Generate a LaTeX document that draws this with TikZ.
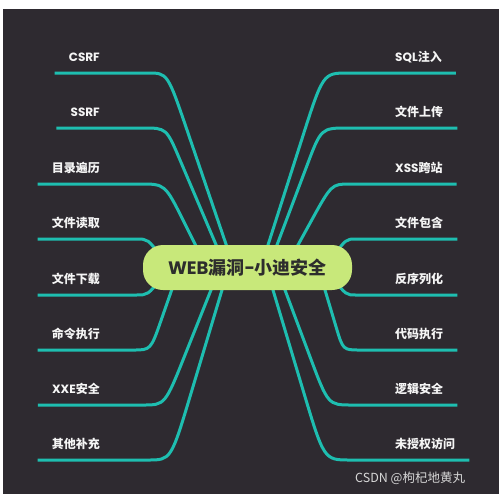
\documentclass[tikz,border=0pt]{standalone}
\usepackage{fontspec}
\newfontfamily\cjk{Noto Sans CJK SC}
\newfontfamily\mylatf{Poppins}
\newcommand\mylat[1]{{\mylatf #1}}
\definecolor{bgdark}{RGB}{46,42,48}
\definecolor{teal1}{RGB}{30,190,176}
\definecolor{rootgreen}{RGB}{200,232,122}
\definecolor{roottext}{RGB}{45,45,45}
\definecolor{labeltext}{RGB}{245,245,245}
\definecolor{wmark}{RGB}{215,215,215}
\pgfdeclarelayer{bg}
\pgfsetlayers{bg,main}
\begin{document}
\begin{tikzpicture}[x=1pt,y=-1pt,
  conn/.style={draw=teal1,line width=3pt,line join=round},
  leaf/.style={text=labeltext,font=\cjk\bfseries\fontsize{12}{14}\selectfont,
    inner xsep=14pt,inner ysep=9.4pt,text height=9pt,text depth=2pt},
  lleaf/.style={leaf,anchor=south east},
  rleaf/.style={leaf,anchor=south west},
  rootbox/.style={fill=rootgreen,rounded corners=20pt,minimum width=209pt,
    minimum height=45pt,inner sep=0pt,text=roottext,
    font=\cjk\bfseries\fontsize{18}{20}\selectfont}]
\useasboundingbox (0,0) rectangle (500,496);
% nodes
\node[rootbox] (root) at (247.5,267.5) {\mylat{WEB}漏洞\mylat{-}小迪安全};
\node[lleaf] (csrf) at (114,73) {\mylat{CSRF}};
\node[lleaf] (ssrf) at (114,128) {\mylat{SSRF}};
\node[lleaf] (mulu) at (114,184) {目录遍历};
\node[lleaf] (duqu) at (114,239) {文件读取};
\node[lleaf] (xiazai) at (114,295) {文件下载};
\node[lleaf] (mingling) at (114,350) {命令执行};
\node[lleaf] (xxe) at (114,405) {\mylat{XXE}安全};
\node[lleaf] (qita) at (114,460) {其他补充};
\node[rleaf] (sql) at (381,73) {\mylat{SQL}注入};
\node[rleaf] (shangchuan) at (381,128) {文件上传};
\node[rleaf] (xss) at (381,184) {\mylat{XSS}跨站};
\node[rleaf] (baohan) at (381,239) {文件包含};
\node[rleaf] (fanxu) at (381,295) {反序列化};
\node[rleaf] (daima) at (381,350) {代码执行};
\node[rleaf] (luoji) at (381,405) {逻辑安全};
\node[rleaf] (weishou) at (381,460) {未授权访问};
\node[anchor=west,inner sep=0pt,text=wmark,font=\cjk\fontsize{12.5}{14}\selectfont] (wm) at (355,478) {CSDN @枸杞地黄丸};
\begin{pgfonlayer}{bg}
\fill[white] (0,0) rectangle (500,496);
\fill[bgdark] (3,9) rectangle (499,494);
% left
\draw[conn] ([shift={(-17.1,-10.5)}]root.center) -- (187,130) .. controls (167.5,73) .. (148,73) -- (csrf.south west);
\draw[conn] ([shift={(-26.25,-10.5)}]root.center) -- (180,160) .. controls (166.4,128) .. (143,128) -- (ssrf.south west);
\draw[conn] ([shift={(-47,-12.5)}]root.center) -- (183.5,221) .. controls (165,184) .. (140,184) -- (mulu.south west);
\draw[conn] ([shift={(-85.5,-9.5)}]root.center) .. controls (148,239) .. (136,239) -- (duqu.south west);
\draw[conn] ([shift={(-85.5,9.5)}]root.center) .. controls (148,295) .. (136,295) -- (xiazai.south west);
\draw[conn] ([shift={(-72,11.5)}]root.center) -- (161.2,320) .. controls (150.7,350) .. (133,350) -- (mingling.south west);
\draw[conn] ([shift={(-32.5,12.5)}]root.center) -- (185,355) .. controls (165,405) .. (143,405) -- (xxe.south west);
\draw[conn] ([shift={(-22.5,12.5)}]root.center) -- (191.1,393) .. controls (171,460) .. (148,460) -- (qita.south west);
% right
\draw[conn] ([shift={(17.3,-12.5)}]root.center) -- (301.6,140) .. controls (323,73) .. (348,73) -- (sql.south east);
\draw[conn] ([shift={(25.7,-12.5)}]root.center) -- (306.8,166) .. controls (321.1,128) .. (348,128) -- (shangchuan.south east);
\draw[conn] ([shift={(45,-12.5)}]root.center) -- (310.1,223) .. controls (331.5,184) .. (350,184) -- (xss.south east);
\draw[conn] ([shift={(84.5,-9.5)}]root.center) .. controls (346,239) .. (356,239) -- (baohan.south east);
\draw[conn] ([shift={(84.5,9.5)}]root.center) .. controls (346,295) .. (356,295) -- (fanxu.south east);
\draw[conn] ([shift={(74.5,12.5)}]root.center) -- (336.1,327) .. controls (343,350) .. (360,350) -- (daima.south east);
\draw[conn] ([shift={(33.75,12.5)}]root.center) -- (310.1,357) .. controls (328.1,405) .. (352,405) -- (luoji.south east);
\draw[conn] ([shift={(22.5,12.5)}]root.center) -- (303,390) .. controls (324,460) .. (350,460) -- (weishou.south east);
\end{pgfonlayer}
\end{tikzpicture}
\end{document}
